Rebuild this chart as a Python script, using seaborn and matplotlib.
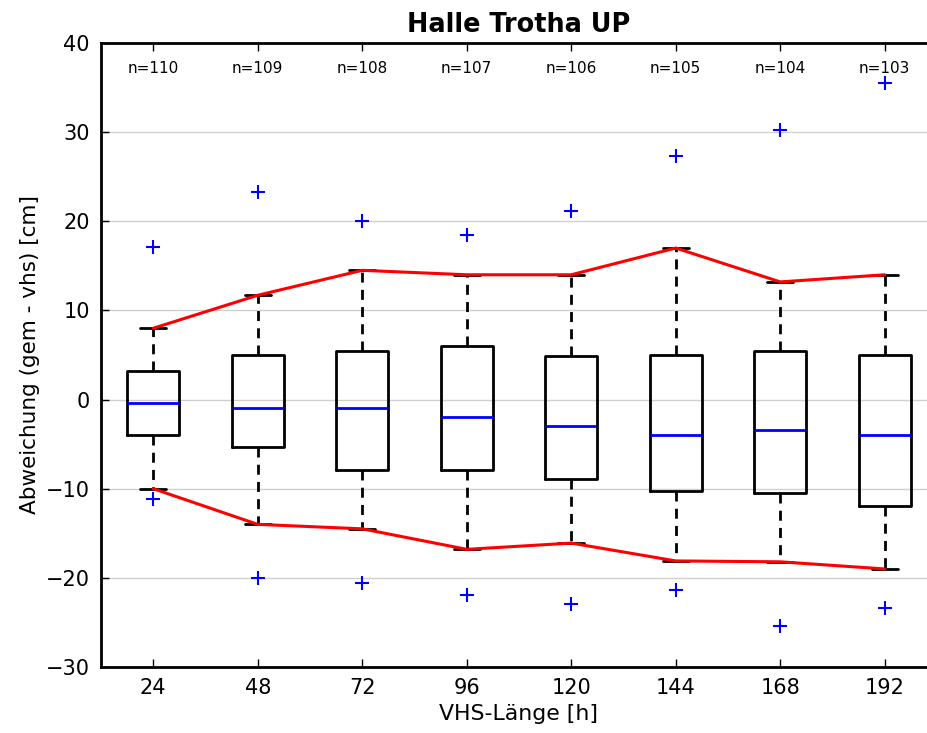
import matplotlib
matplotlib.use("Agg")
import matplotlib.pyplot as plt
import seaborn as sns
import pandas as pd

# ---- data ----
hours = [24, 48, 72, 96, 120, 144, 168, 192]
counts = [110, 109, 108, 107, 106, 105, 104, 103]
q1 = [-4.0, -5.3, -7.9, -7.9, -8.9, -10.25, -10.5, -11.9]
q3 = [3.2, 5.0, 5.5, 6.0, 4.9, 5.0, 5.5, 5.0]
median = [-0.4, -0.9, -0.9, -1.9, -3.0, -4.0, -3.4, -4.0]
whisk_hi = [8.0, 11.7, 14.5, 14.0, 14.0, 17.0, 13.2, 14.0]
whisk_lo = [-10.0, -14.0, -14.5, -16.8, -16.1, -18.1, -18.2, -19.0]
flier_hi = [17.1, 23.3, 20.0, 18.5, 21.1, 27.3, 30.2, 35.5]
flier_lo = [-11.1, -20.0, -20.6, -21.9, -22.9, -21.4, -25.4, -23.4]

sns.set_theme(style="white", rc={"text.color": "black", "axes.labelcolor": "black",
                                 "xtick.color": "black", "ytick.color": "black"})
plt.rcParams["font.family"] = ["DejaVu Sans"]

fig = plt.figure(figsize=(9.28, 7.33), dpi=100)
ax = fig.add_axes([101 / 928, 66 / 733, 836 / 928, 624 / 733])

# horizontal grid
ax.yaxis.grid(True, color="#d0d0d0", linewidth=1.0)
ax.set_axisbelow(True)

stats = []
for i, h in enumerate(hours):
    stats.append(dict(med=median[i], q1=q1[i], q3=q3[i],
                      whislo=whisk_lo[i], whishi=whisk_hi[i],
                      fliers=[flier_hi[i], flier_lo[i]], label=str(h)))

ax.bxp(stats, positions=hours, widths=12, showfliers=False,
       boxprops=dict(color="black", linewidth=2),
       whiskerprops=dict(color="black", linewidth=2, linestyle=(0, (3.6, 2.6))),
       capprops=dict(color="black", linewidth=2),
       medianprops=dict(color="blue", linewidth=2), manage_ticks=False)

# red lines connecting whisker ends
df = pd.DataFrame({"h": hours, "hi": whisk_hi, "lo": whisk_lo})
sns.lineplot(data=df, x="h", y="hi", color="red", linewidth=2.2, ax=ax)
sns.lineplot(data=df, x="h", y="lo", color="red", linewidth=2.2, ax=ax)

# fliers
fl = pd.DataFrame({"h": hours * 2, "v": flier_hi + flier_lo})
sns.scatterplot(data=fl, x="h", y="v", marker="+", color="blue", s=100,
                linewidth=1.5, ax=ax, zorder=5)

for h, n in zip(hours, counts):
    ax.text(h, 37.1, f"n={n}", ha="center", va="center", fontsize=11)

ax.set_xlim(12, 204)
ax.set_ylim(-30, 40)
ax.set_xticks(hours)
ax.set_xticklabels([str(h) for h in hours])
ax.set_yticks(range(-30, 41, 10))
ax.tick_params(axis="both", direction="in", length=6, width=1, labelsize=15,
               top=True, right=True, bottom=True, left=True, pad=8)
for s in ax.spines.values():
    s.set_color("black")
    s.set_linewidth(2)

ax.set_xlabel("VHS-Länge [h]", fontsize=15.8)
ax.set_ylabel("Abweichung (gem - vhs) [cm]", fontsize=15.5)
ax.set_title("Halle Trotha UP", fontsize=18.4, fontweight="bold", pad=8)

fig.savefig("out.png", dpi=100)
